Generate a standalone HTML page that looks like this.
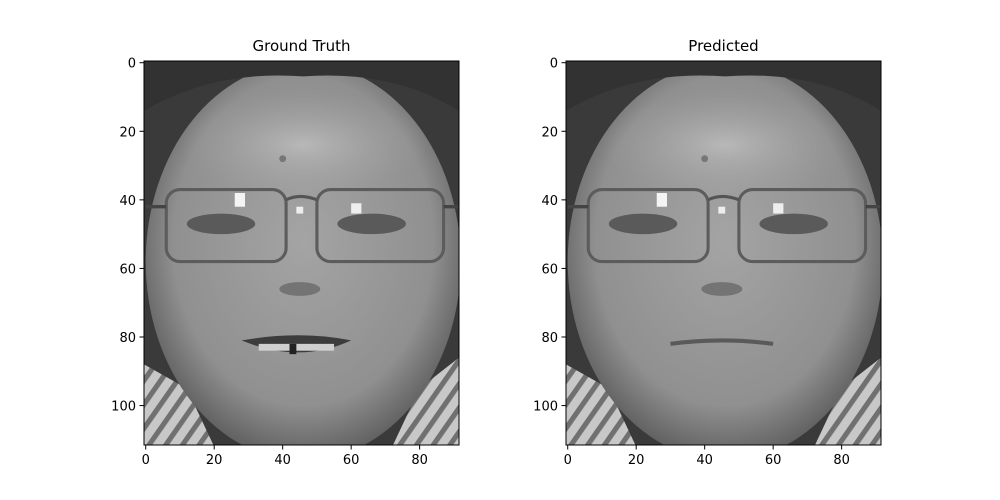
<!DOCTYPE html>
<html><head><meta charset="utf-8">
<style>
html,body{margin:0;padding:0;background:#fff;}
svg{display:block;font-family:"DejaVu Sans","Liberation Sans",sans-serif;}
</style></head>
<body>
<svg id="chart" width="1000" height="500" viewBox="0 0 1000 500" xmlns="http://www.w3.org/2000/svg">
<defs>
  <radialGradient id="faceGrad" cx="0.5" cy="0.45" r="0.55">
    <stop offset="0" stop-color="#a4a4a4"/>
    <stop offset="0.75" stop-color="#909090"/>
    <stop offset="1" stop-color="#606060"/>
  </radialGradient>
  <radialGradient id="foreGrad" cx="0.5" cy="0.5" r="0.5">
    <stop offset="0" stop-color="#b8b8b8"/>
    <stop offset="1" stop-color="#a0a0a0" stop-opacity="0"/>
  </radialGradient>
  <pattern id="stripes" width="4" height="4" patternUnits="userSpaceOnUse" patternTransform="rotate(35)">
    <rect width="4" height="4" fill="#c8c8c8"/>
    <rect width="1.5" height="4" fill="#707070"/>
  </pattern>
  <g id="face">
    <rect x="-0.5" y="-0.5" width="92" height="112" fill="#3a3a3a"/>
    <path d="M-0.5 88 L12 95 L20 112 L-0.5 111.5 Z" fill="url(#stripes)"/>
    <path d="M91.5 86 L80 95 L72 112 L91.5 111.5 Z" fill="url(#stripes)"/>
    <ellipse cx="46" cy="58" rx="46" ry="58" fill="url(#faceGrad)"/>
    <ellipse cx="46" cy="24" rx="36" ry="16" fill="url(#foreGrad)"/>
    <path d="M-0.5 14 Q20 2 46 4 Q72 2 91.5 14 L91.5 -0.5 L-0.5 -0.5 Z" fill="#323232"/>
    <ellipse cx="22" cy="47" rx="10" ry="3" fill="#5a5a5a"/>
    <ellipse cx="66" cy="47" rx="10" ry="3" fill="#5a5a5a"/>
    <rect x="6" y="37" width="35" height="21" rx="4" fill="none" stroke="#5c5c5c" stroke-width="0.9"/>
    <rect x="50" y="37" width="37" height="21" rx="4" fill="none" stroke="#5c5c5c" stroke-width="0.9"/>
    <path d="M41 40 Q45 38 50 40" fill="none" stroke="#555" stroke-width="0.9"/>
    <path d="M0 42 L6 42 M87 42 L91.5 42" stroke="#444" stroke-width="1"/>
    <ellipse cx="45" cy="66" rx="6" ry="2" fill="#747474"/>
    <rect x="26" y="38" width="3" height="4" fill="#f4f4f4"/>
    <rect x="44" y="42" width="2" height="2" fill="#eee"/>
    <rect x="60" y="41" width="3" height="3" fill="#eee"/>
    <ellipse cx="40" cy="28" rx="1" ry="1" fill="#777"/>
  </g>
</defs>
<g id="axes-left"></g>
<g id="axes-right"></g>
</svg>
<script>
const xTicks = [0, 20, 40, 60, 80];
const yTicks = [0, 20, 40, 60, 80, 100];
const imgCols = [92];
const imgRows = [112];
const panelTitles = ["Ground Truth", "Predicted"];
const NS = "http://www.w3.org/2000/svg";
const panels = [{id:"axes-left", x0:144}, {id:"axes-right", x0:566}];
const top0 = 61, W = 315, H = 384;
function mk(tag, attrs, parent){const e=document.createElementNS(NS,tag);for(const k in attrs)e.setAttribute(k,attrs[k]);parent.appendChild(e);return e;}
panels.forEach((p,i)=>{
  const g = document.getElementById(p.id);
  const sx = v => p.x0 + (v+0.5)*W/imgCols[0];
  const sy = v => top0 + (v+0.5)*H/imgRows[0];
  const img = mk("svg",{x:p.x0,y:top0,width:W,height:H,viewBox:"-0.5 -0.5 92 112",preserveAspectRatio:"none"},g);
  
  
  mk("use",{href:"#face"},img);
  if(i===0){
    const m = mk("g",{},img);
    
    
    mk("path",{d:"M28 81 Q45 78 60 81 Q45 88 28 81 Z",fill:"#3c3c3c"},m);
    mk("rect",{x:33,y:82,width:22,height:2,fill:"#cfcfcf"},m);
    mk("rect",{x:42,y:82,width:2,height:3,fill:"#222"},m);
  } else {
    const m = mk("path",{d:"M30 82 Q45 80 60 82",fill:"none",stroke:"#5a5a5a","stroke-width":1.2},img);
    
    
  }
  const frame = mk("rect",{x:p.x0,y:top0,width:W,height:H,fill:"none",stroke:"#000","stroke-width":1},g);
  
  
  const t = mk("text",{x:p.x0+W/2,y:51,"text-anchor":"middle","font-size":15,fill:"#000"},g);
  t.textContent = panelTitles[i];
  
  
  xTicks.forEach(v=>{
    const x = sx(v);
    const tk = mk("line",{x1:x,x2:x,y1:top0+H,y2:top0+H+4.5,stroke:"#000"},g);
    
    
    const l = mk("text",{x:x,y:top0+H+19,"text-anchor":"middle","font-size":13,fill:"#000"},g);
    l.textContent = v;
    
    
  });
  yTicks.forEach(v=>{
    const y = sy(v);
    const tk = mk("line",{x1:p.x0-4.5,x2:p.x0,y1:y,y2:y,stroke:"#000"},g);
    
    
    const l = mk("text",{x:p.x0-8,y:y+5,"text-anchor":"end","font-size":13,fill:"#000"},g);
    l.textContent = v;
    
    
  });
});
</script>
</body></html>
